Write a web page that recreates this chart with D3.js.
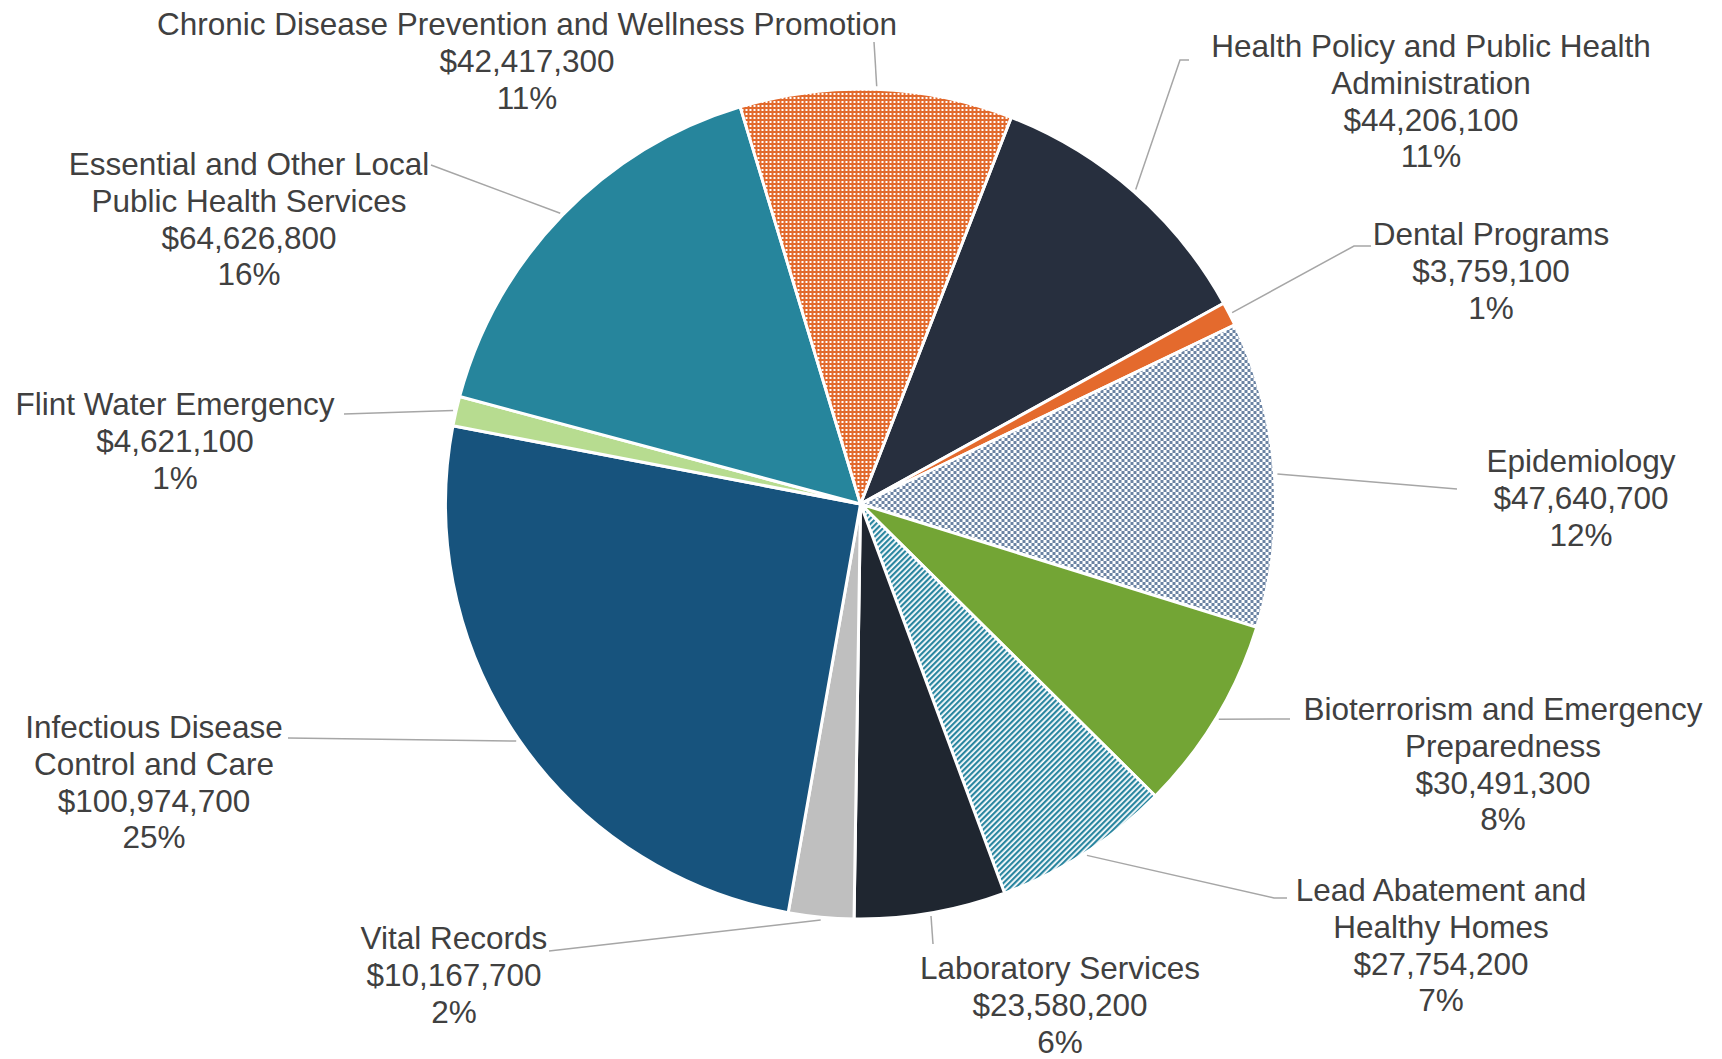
<!DOCTYPE html>
<html>
<head>
<meta charset="utf-8">
<script src="https://cdn.jsdelivr.net/npm/d3@7"></script>
<style>
  body { margin: 0; background: #fff; }
  text { font-family: "Liberation Sans", Arial, sans-serif; }
</style>
</head>
<body>
<script>
// budget by program, clockwise from the slice right of 12 o'clock
const categories = [
  "Health Policy and Public Health\nAdministration",
  "Dental Programs",
  "Epidemiology",
  "Bioterrorism and Emergency\nPreparedness",
  "Lead Abatement and\nHealthy Homes",
  "Laboratory Services",
  "Vital Records",
  "Infectious Disease\nControl and Care",
  "Flint Water Emergency",
  "Essential and Other Local\nPublic Health Services",
  "Chronic Disease Prevention and Wellness Promotion"
];
const budget = [44206100, 3759100, 47640700, 30491300, 27754200, 23580200,
                10167700, 100974700, 4621100, 64626800, 42417300];
const shareLabels = ["11%", "1%", "12%", "8%", "7%", "6%", "2%", "25%", "1%", "16%", "11%"];

// styles
const sliceFills = ["#272f3e", "#e46a2d", "url(#checker)", "#73a535", "url(#stripes)",
                    "#1f2630", "#bfbfbf", "#17537d", "#b7dc90", "#26859c", "url(#dots)"];

// label placement (center x, first line center y) and leader line end points
const labelPos = [
  [1431, 46], [1491, 234], [1581, 461], [1503, 709], [1441, 890], [1060, 968],
  [454, 938], [154, 727], [175, 404], [249, 164], [527, 24]
];
const leaderEnds = [
  [[1180, 60], [1189, 60]],
  [[1354, 246], [1371, 246]],
  [[1457, 489]],
  [[1290, 719]],
  [[1274, 898], [1287, 898]],
  [[933, 944]],
  [[549, 951]],
  [[288, 738]],
  [[344, 414]],
  [[431, 165]],
  [[874, 42]]
];

const w = 1722, h = 1059;
const cx = 860.5, cy = 504, r = 415;
const fontSize = 31.5, lineStep = 36.7;

const svg = d3.select("body").append("svg")
  .attr("width", w).attr("height", h);

const defs = svg.append("defs");

// orange with white dots
const dots = defs.append("pattern").attr("id", "dots")
  .attr("patternUnits", "userSpaceOnUse").attr("width", 4).attr("height", 4);
dots.append("rect").attr("width", 4).attr("height", 4).attr("fill", "#e2692c");
dots.append("rect").attr("x", 1).attr("y", 1).attr("width", 2).attr("height", 2).attr("fill", "#fff");

// blue-grey checkerboard
const checker = defs.append("pattern").attr("id", "checker")
  .attr("patternUnits", "userSpaceOnUse").attr("width", 6).attr("height", 6);
checker.append("rect").attr("width", 6).attr("height", 6).attr("fill", "#fff");
checker.append("rect").attr("width", 3).attr("height", 3).attr("fill", "#6b83a3");
checker.append("rect").attr("x", 3).attr("y", 3).attr("width", 3).attr("height", 3).attr("fill", "#6b83a3");

// teal diagonal stripes
const stripes = defs.append("pattern").attr("id", "stripes")
  .attr("patternUnits", "userSpaceOnUse").attr("width", 4).attr("height", 4)
  .attr("patternTransform", "rotate(45)");
stripes.append("rect").attr("width", 4).attr("height", 4).attr("fill", "#fff");
stripes.append("rect").attr("width", 2.2).attr("height", 4).attr("fill", "#2a86a0");

const startA = 21.3 * Math.PI / 180;
const pie = d3.pie().sort(null).value(d => d)
  .startAngle(startA).endAngle(startA + 2 * Math.PI);
const arcs = pie(budget);

const arc = d3.arc().innerRadius(0).outerRadius(r);
const edgeArc = d3.arc().innerRadius(r + 3).outerRadius(r + 3);

const g = svg.append("g").attr("transform", `translate(${cx},${cy})`);

g.selectAll("path.slice")
  .data(arcs)
  .enter()
  .append("path")
  .attr("class", "slice")
  .attr("d", arc)
  .attr("fill", (d, i) => sliceFills[i])
  .attr("stroke", "#fff")
  .attr("stroke-width", 3)
  .attr("stroke-linejoin", "round");

// leader lines
svg.selectAll("polyline.leader")
  .data(arcs)
  .enter()
  .append("polyline")
  .attr("class", "leader")
  .attr("points", (d, i) => {
    const p = edgeArc.centroid(d);
    const pts = [[p[0] + cx, p[1] + cy]].concat(leaderEnds[i]);
    return pts.map(q => q.join(",")).join(" ");
  })
  .attr("fill", "none")
  .attr("stroke", "#a6a6a6")
  .attr("stroke-width", 1.5);

const fmt = d3.format("$,");

const labels = svg.selectAll("text.lbl")
  .data(arcs)
  .enter()
  .append("text")
  .attr("class", "lbl")
  .attr("x", (d, i) => labelPos[i][0])
  .attr("y", (d, i) => labelPos[i][1])
  .attr("text-anchor", "middle")
  .attr("font-size", fontSize + "px")
  .attr("fill", "#404040");

labels.each(function (d, i) {
  const lines = categories[i].split("\n").concat([fmt(budget[i]), shareLabels[i]]);
  d3.select(this).selectAll("tspan")
    .data(lines)
    .enter()
    .append("tspan")
    .attr("x", labelPos[i][0])
    .attr("y", (t, k) => labelPos[i][1] + k * lineStep)
    .attr("dy", "0.36em")
    .text(t => t);
});
</script>
</body>
</html>
